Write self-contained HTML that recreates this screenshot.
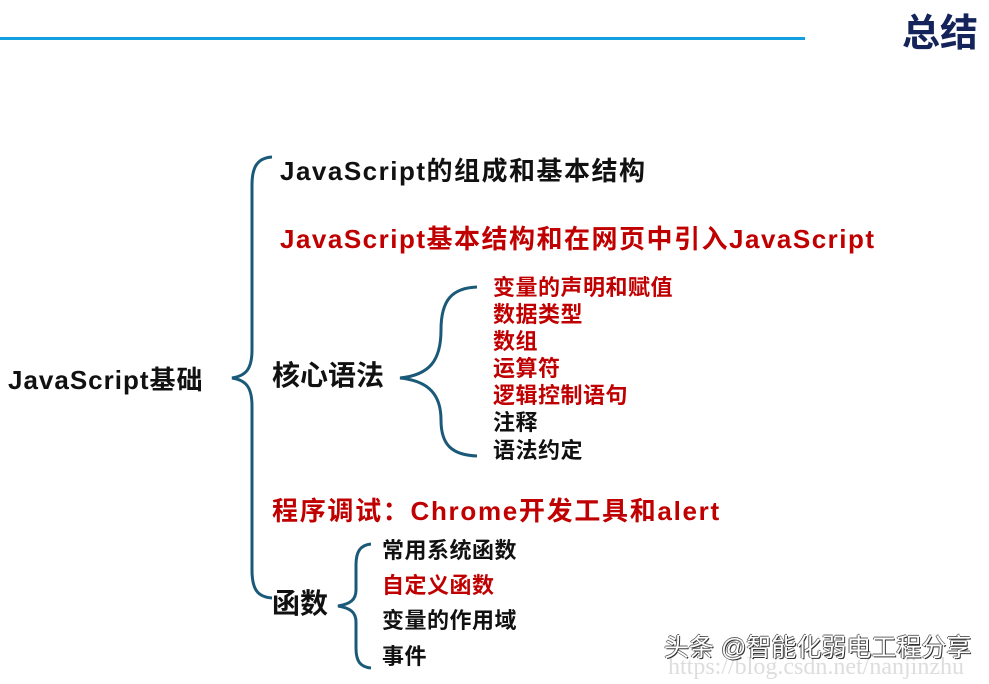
<!DOCTYPE html>
<html><head><meta charset="utf-8"><style>
body{margin:0;width:989px;height:684px;background:#fff;position:relative;overflow:hidden;font-family:"Liberation Sans","Noto Sans CJK SC",sans-serif;font-weight:bold;}
.t{position:absolute;white-space:nowrap;line-height:1;}
.r{color:#c00000}.k{color:#111}
</style></head><body>
<div style="position:absolute;left:0;top:37px;width:805px;height:3px;background:#14a0e0"></div>
<div class="t" style="left:902px;top:15px;font-size:38px;color:#14245a">总结</div>
<svg width="989" height="684" style="position:absolute;left:0;top:0" fill="none" stroke="#1a5a78" stroke-width="3">
<path d="M272 157 C258 158 252 166 252 185 L252 350 C252 370 245 376 232 378 C245 380 252 386 252 406 L252 570 C252 590 258 597 272 598"/>
<path d="M477 287 C452 288 441 300 441 330 C441 360 430 375 400 378 C430 381 441 396 441 420 C441 445 452 455 477 456"/>
<path d="M371 544 C360 545 356 552 356 565 L356 590 C356 600 350 604 338 606 C350 608 356 612 356 622 L356 648 C356 661 360 667 371 668"/>
</svg>
<div class="t k" style="left:8px;top:367px;font-size:26px;letter-spacing:1px">JavaScript基础</div>
<div class="t k" style="left:280px;top:158px;font-size:26px;letter-spacing:1.5px">JavaScript的组成和基本结构</div>
<div class="t r" style="left:280px;top:226px;font-size:26px;letter-spacing:1.5px">JavaScript基本结构和在网页中引入JavaScript</div>
<div class="t k" style="left:272px;top:362px;font-size:28px">核心语法</div>
<div class="t r" style="left:493px;top:277px;font-size:22px;letter-spacing:0.5px">变量的声明和赋值</div>
<div class="t r" style="left:493px;top:304px;font-size:22px;letter-spacing:0.5px">数据类型</div>
<div class="t r" style="left:493px;top:331px;font-size:22px;letter-spacing:0.5px">数组</div>
<div class="t r" style="left:493px;top:358px;font-size:22px;letter-spacing:0.5px">运算符</div>
<div class="t r" style="left:493px;top:385px;font-size:22px;letter-spacing:0.5px">逻辑控制语句</div>
<div class="t k" style="left:493px;top:412px;font-size:22px;letter-spacing:0.5px">注释</div>
<div class="t k" style="left:493px;top:440px;font-size:22px;letter-spacing:0.5px">语法约定</div>
<div class="t r" style="left:272px;top:498px;font-size:26px;letter-spacing:1.7px">程序调试：Chrome开发工具和alert</div>
<div class="t k" style="left:272px;top:590px;font-size:28px">函数</div>
<div class="t k" style="left:382px;top:540px;font-size:22px;letter-spacing:0.5px">常用系统函数</div>
<div class="t r" style="left:382px;top:575px;font-size:22px;letter-spacing:0.5px">自定义函数</div>
<div class="t k" style="left:382px;top:610px;font-size:22px;letter-spacing:0.5px">变量的作用域</div>
<div class="t k" style="left:382px;top:646px;font-size:22px;letter-spacing:0.5px">事件</div>
<div class="t" style="left:668px;top:655px;font-size:24px;font-family:'Liberation Serif',serif;font-weight:normal;color:#ddd">https://blog.csdn.net/nanjinzhu</div>
<div class="t" style="left:664px;top:636px;font-size:25px;font-weight:normal;color:#fff;text-shadow:1px 1px 0 #333,-1px 0 0 #666,0 -1px 0 #666">头条 @智能化弱电工程分享</div>
</body></html>
